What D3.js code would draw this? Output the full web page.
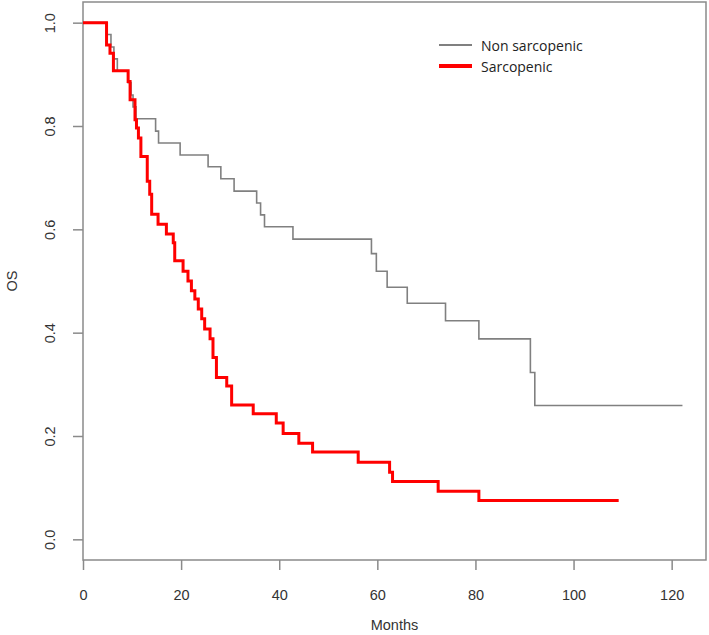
<!DOCTYPE html>
<html>
<head>
<meta charset="utf-8">
<script src="https://cdn.jsdelivr.net/npm/d3@7"></script>
<style>
  html, body { margin: 0; padding: 0; background: #fff; }
  svg { display: block; }
</style>
</head>
<body>
<svg id="chart" width="709" height="635"></svg>
<script>
// ---- data ----
const nonTime = [0, 4.8, 5.7, 6.3, 7.0, 9.2, 9.8, 10.2, 10.8, 14.8, 15.4, 19.8, 25.5, 28.1, 30.8, 35.4, 36.2, 37.0, 42.8, 58.8, 59.8, 62.0, 66.1, 73.9, 80.7, 91.2, 92.1, 122.2];
const nonSurv = [1.0, 0.977, 0.953, 0.930, 0.907, 0.884, 0.860, 0.837, 0.814, 0.790, 0.767, 0.744, 0.721, 0.698, 0.674, 0.651, 0.628, 0.605, 0.581, 0.553, 0.519, 0.488, 0.457, 0.423, 0.388, 0.323, 0.259, 0.259];

const sarcTime = [0, 4.8, 5.5, 6.2, 9.2, 9.6, 10.6, 10.9, 11.3, 11.8, 13.1, 13.6, 14.0, 15.3, 17.0, 18.4, 18.7, 20.4, 21.4, 22.1, 22.8, 23.5, 24.2, 24.8, 25.9, 26.5, 27.2, 29.3, 30.3, 34.7, 39.4, 40.8, 44.0, 46.8, 56.1, 62.5, 63.1, 72.4, 80.7, 109.2];
const sarcSurv = [1.0, 0.957, 0.941, 0.907, 0.886, 0.851, 0.812, 0.796, 0.777, 0.741, 0.693, 0.668, 0.629, 0.610, 0.591, 0.574, 0.539, 0.519, 0.500, 0.481, 0.465, 0.446, 0.427, 0.407, 0.388, 0.352, 0.313, 0.297, 0.260, 0.243, 0.225, 0.205, 0.186, 0.169, 0.149, 0.130, 0.112, 0.093, 0.075, 0.075];

const xTicks = [0, 20, 40, 60, 80, 100, 120];
const yTicks = [0.0, 0.2, 0.4, 0.6, 0.8, 1.0];
const seriesNames = ["Non sarcopenic", "Sarcopenic"];
const seriesColors = ["#808080", "#ff0000"];

// ---- layout ----
const svg = d3.select("#chart");
const L = 83, R = 706, T = 2, B = 560;
const x = d3.scaleLinear().domain([0, 127]).range([L, R]);
const y = d3.scaleLinear().domain([-0.04, 1.04]).range([B, T]);
const axisCol = "#8a8a8a";
const textCol = "#333";
const font = "'Liberation Sans', Arial, sans-serif";

// box
svg.append("rect").attr("x", L).attr("y", T).attr("width", R - L).attr("height", B - T)
  .attr("fill", "none").attr("stroke", axisCol).attr("stroke-width", 1.5);

// x axis
const xa = svg.append("g").attr("transform", `translate(0,${B})`)
  .call(d3.axisBottom(x).tickValues(xTicks).tickSize(10).tickPadding(20).tickFormat(d3.format("d")));
xa.select(".domain").remove();
xa.selectAll("line").attr("stroke", axisCol).attr("stroke-width", 1.5);
xa.selectAll("text").attr("fill", textCol).style("font-family", font).style("font-size", "14.5px");

// y axis
const ya = svg.append("g").attr("transform", `translate(${L},0)`)
  .call(d3.axisLeft(y).tickValues(yTicks).tickSize(10).tickFormat(d3.format(".1f")));
ya.select(".domain").remove();
ya.selectAll("line").attr("stroke", axisCol).attr("stroke-width", 1.5);
ya.selectAll("text")
  .attr("x", 0).attr("dy", null)
  .attr("text-anchor", "middle")
  .attr("dominant-baseline", "central")
  .attr("transform", d => `translate(-33,${0}) rotate(-90)`)
  .attr("fill", textCol).style("font-family", font).style("font-size", "14.5px");

// axis titles
svg.append("text").attr("x", (L + R) / 2).attr("y", 625).attr("text-anchor", "middle")
  .attr("dominant-baseline", "central").attr("fill", textCol)
  .style("font-family", font).style("font-size", "14.5px").text("Months");
svg.append("text").attr("transform", `translate(12,${(T + B) / 2}) rotate(-90)`).attr("text-anchor", "middle")
  .attr("dominant-baseline", "central").attr("fill", textCol)
  .style("font-family", font).style("font-size", "14.5px").text("OS");

// curves
const line = d3.line().x(d => x(d[0])).y(d => y(d[1])).curve(d3.curveStepAfter);
const nonData = nonTime.map((t, i) => [t, nonSurv[i]]);
const sarcData = sarcTime.map((t, i) => [t, sarcSurv[i]]);
svg.append("path").datum(nonData).attr("d", line).attr("fill", "none")
  .attr("stroke", seriesColors[0]).attr("stroke-width", 1.6);
svg.append("path").datum(sarcData).attr("d", line).attr("fill", "none")
  .attr("stroke", seriesColors[1]).attr("stroke-width", 3);

// legend
const legY = [45, 66];
const legW = [2, 4];
seriesNames.forEach((name, i) => {
  svg.append("line").attr("x1", 439).attr("x2", 472).attr("y1", legY[i]).attr("y2", legY[i])
    .attr("stroke", seriesColors[i]).attr("stroke-width", legW[i]);
  svg.append("text").attr("x", 481).attr("y", legY[i]).attr("dominant-baseline", "central")
    .attr("fill", "#222").style("font-family", "'Open Sans', 'Noto Sans', sans-serif").style("font-size", "14px")
    .text(name);
});
</script>
</body>
</html>
